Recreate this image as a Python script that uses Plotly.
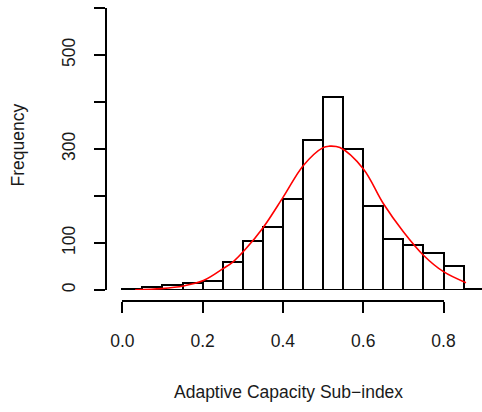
import plotly.graph_objects as go

# ---- data ----
bin_edges = [0.00, 0.05, 0.10, 0.15, 0.20, 0.25, 0.30, 0.35, 0.40, 0.45,
             0.50, 0.55, 0.60, 0.65, 0.70, 0.75, 0.80, 0.85, 0.90]
counts = [3, 6, 10, 14, 19, 59, 105, 135, 194, 320,
          411, 301, 179, 108, 96, 79, 52, 2]

curve_x = [0.032, 0.098, 0.152, 0.202, 0.252, 0.276, 0.306, 0.351, 0.401,
           0.451, 0.500, 0.515, 0.542, 0.600, 0.650, 0.700, 0.750, 0.800, 0.856]
curve_y = [0.5, 3, 8.5, 20, 46, 60, 86, 133, 198,
           265, 303, 306, 303, 258, 184, 124, 74, 39, 15.6]

x_ticks = [0.0, 0.2, 0.4, 0.6, 0.8]
x_tick_labels = ["0.0", "0.2", "0.4", "0.6", "0.8"]
y_ticks = [0, 100, 200, 300, 400, 500, 600]
y_tick_labels = ["0", "100", "", "300", "", "500", ""]

x_title = "Adaptive Capacity Sub\u2212index"
y_title = "Frequency"

centers = [(a + b) / 2 for a, b in zip(bin_edges[:-1], bin_edges[1:])]
widths = [b - a for a, b in zip(bin_edges[:-1], bin_edges[1:])]

FONT = "Liberation Sans, Arial, Helvetica, sans-serif"
TXT = "#1a1a1a"
FS = 17.5

fig = go.Figure()
fig.add_trace(go.Bar(
    x=centers, y=counts, width=widths,
    marker=dict(color="white", line=dict(color="black", width=2)),
    xaxis="x", yaxis="y", hoverinfo="skip", showlegend=False,
))
fig.add_trace(go.Scatter(
    x=curve_x, y=curve_y, mode="lines",
    line=dict(color="#ff0000", width=1.6, shape="spline", smoothing=1.0),
    xaxis="x", yaxis="y", hoverinfo="skip", showlegend=False,
))
# invisible helper trace so that the R-style bottom axis (x2) is drawn
fig.add_trace(go.Scatter(
    x=x_ticks, y=[0] * len(x_ticks), mode="markers",
    marker=dict(opacity=0), xaxis="x2", yaxis="y",
    hoverinfo="skip", showlegend=False,
))

W, H = 482, 412
L, R, T, B = 107, 0, 8, 111
pw = W - L - R
ph = H - T - B
# pixel mapping: x=0 at 122.3px, 401.5 px per unit
x0_px, ppu = 122.3, 401.5
xmin = (L - x0_px) / ppu
xmax = (W - R - x0_px) / ppu
d0 = ((0.0 * ppu + x0_px) - L) / pw
d1 = ((0.8 * ppu + x0_px) - L) / pw

fig.update_layout(
    template="none",
    width=W, height=H,
    margin=dict(l=L, r=R, t=T, b=B, pad=0),
    paper_bgcolor="white", plot_bgcolor="rgba(0,0,0,0)",
    font=dict(family=FONT, size=FS, color=TXT),
    bargap=0,
    xaxis=dict(range=[xmin, xmax], visible=False, anchor="y", automargin=False,
               showgrid=False, zeroline=False, fixedrange=True),
    xaxis2=dict(range=[0, 0.8], domain=[d0, d1], anchor="free", position=0,
                automargin=False,
                showline=True, linecolor="black", linewidth=2,
                ticks="outside", ticklen=11, tickwidth=2, tickcolor="black",
                tickvals=x_ticks, ticktext=x_tick_labels,
                ticklabelstandoff=13,
                showgrid=False, zeroline=False,
                tickfont=dict(family=FONT, size=FS, color=TXT)),
    yaxis=dict(range=[0, 600], domain=[(301 - 290) / ph, 1],
               anchor="x", automargin=False,
               showline=True, linecolor="black", linewidth=2,
               ticks="outside", ticklen=11, tickwidth=2, tickcolor="black",
               tickvals=y_ticks, ticktext=y_tick_labels, tickangle=-90,
               ticklabelstandoff=12,
               showgrid=False, zeroline=False,
               tickfont=dict(family=FONT, size=FS, color=TXT)),
    annotations=[
        dict(text=x_title, xref="paper", yref="paper",
             x=(288.5 - L) / pw, y=(301 - 392) / ph,
             xanchor="center", yanchor="middle", showarrow=False,
             font=dict(family=FONT, size=FS, color=TXT)),
        dict(text=y_title, xref="paper", yref="paper",
             x=(17.5 - L) / pw, y=(301 - 145) / ph, textangle=-90,
             xanchor="center", yanchor="middle", showarrow=False,
             font=dict(family=FONT, size=FS, color=TXT)),
    ],
)

fig.write_html("out.html", config={"displayModeBar": False},
               post_script="document.body.style.margin='0';")
